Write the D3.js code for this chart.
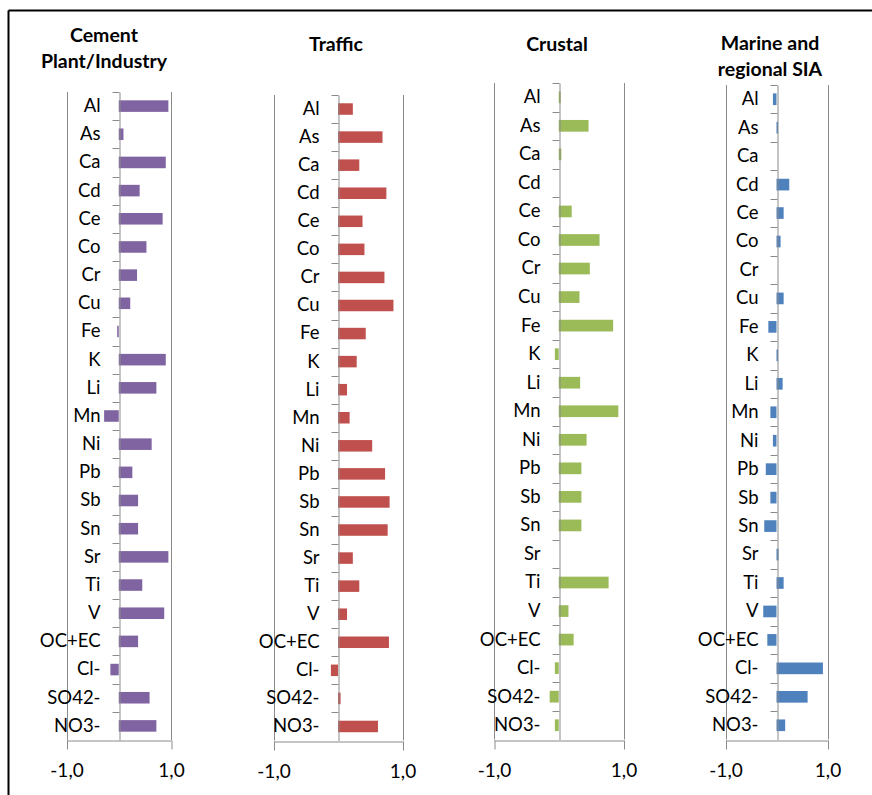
<!DOCTYPE html>
<html>
<head>
<meta charset="utf-8">
<script src="https://cdn.jsdelivr.net/npm/d3@7"></script>
<style>
  html, body { margin: 0; padding: 0; background: #fff; }
  svg { display: block; }
  text { font-family: Lato, "Open Sans", sans-serif; fill: #000; }
</style>
</head>
<body>
<svg id="chart" width="872" height="795"></svg>
<script>
// Source-profile correlations per species
const categories = ["Al","As","Ca","Cd","Ce","Co","Cr","Cu","Fe","K","Li","Mn","Ni","Pb","Sb","Sn","Sr","Ti","V","OC+EC","Cl-","SO42-","NO3-"];

const cementValues  = [0.95,0.09,0.90,0.40,0.84,0.53,0.35,0.22,-0.03,0.90,0.72,-0.28,0.63,0.26,0.37,0.37,0.95,0.45,0.87,0.37,-0.16,0.59,0.72];
const trafficValues = [0.23,0.69,0.33,0.75,0.38,0.41,0.72,0.86,0.43,0.29,0.14,0.18,0.53,0.73,0.80,0.77,0.23,0.33,0.14,0.79,-0.11,0.04,0.62];
const crustalValues = [0.03,0.46,0.04,0.00,0.20,0.63,0.48,0.32,0.84,-0.06,0.33,0.92,0.43,0.35,0.35,0.35,0.00,0.77,0.15,0.23,-0.06,-0.14,-0.06];
const marineValues  = [-0.07,0.03,0.00,0.25,0.14,0.08,0.00,0.14,-0.16,0.03,0.12,-0.12,-0.07,-0.21,-0.12,-0.24,0.04,0.14,-0.26,-0.18,0.91,0.61,0.17];

const tickValues = [-1, 1];
const tickLabels = ["-1,0", "1,0"];

const titles = [
  ["Cement", "Plant/Industry"],
  ["Traffic"],
  ["Crustal"],
  ["Marine and", "regional SIA"]
];

// Panel geometry (pixels)
const panels = [
  { values: cementValues,  color: "#8064A2", x0: 66.5,  x1: 171,   top: 92, bottom: 740,   titleX: 104, titleY: 42 },
  { values: trafficValues, color: "#C0504D", x0: 273.5, x1: 402.5, top: 95, bottom: 740.5, titleX: 336, titleY: 51 },
  { values: crustalValues, color: "#9BBB59", x0: 494,   x1: 623.5, top: 83, bottom: 739.5, titleX: 557, titleY: 51 },
  { values: marineValues,  color: "#4F81BD", x0: 725.5, x1: 827.5, top: 85, bottom: 739.5, titleX: 770, titleY: 50 }
];

const svg = d3.select("#chart");
const gridColor = "#8a8a8a";

// Outer frame (top and left edges)
svg.append("line").attr("x1", 8.5).attr("x2", 872).attr("y1", 10.5).attr("y2", 10.5)
  .attr("stroke", "#000").attr("stroke-width", 2);
svg.append("line").attr("x1", 8.5).attr("x2", 8.5).attr("y1", 10.5).attr("y2", 795)
  .attr("stroke", "#000").attr("stroke-width", 2);

panels.forEach((p, i) => {
  const g = svg.append("g");
  const x = d3.scaleLinear().domain([-1, 1]).range([p.x0, p.x1]);
  const y = d3.scaleBand().domain(categories).range([p.top, p.bottom]).paddingInner(0.59).paddingOuter(0.295);
  const yb = d3.scaleBand().domain(categories).range([p.top, p.bottom]);

  // vertical gridlines at -1 and 1
  g.selectAll(".grid").data(tickValues).join("line")
    .attr("x1", d => Math.round(x(d)) + 0.5).attr("x2", d => Math.round(x(d)) + 0.5)
    .attr("y1", p.top).attr("y2", p.bottom)
    .attr("stroke", gridColor).attr("stroke-width", 1);

  // value axis along the bottom
  const xAxis = d3.axisBottom(x).tickValues(tickValues)
    .tickFormat((d, k) => tickLabels[k]).tickSize(9).tickSizeOuter(0).tickPadding(14);
  const ax = g.append("g").attr("transform", `translate(0,${Math.round(p.bottom) + 0.5})`).call(xAxis);
  ax.select(".domain").attr("stroke", gridColor);
  ax.selectAll(".tick line").attr("stroke", gridColor).attr("transform", "translate(0.5,0)");
  ax.selectAll(".tick text").attr("font-size", "19px").attr("fill", "#000")
    .attr("font-family", "Lato, sans-serif");

  // bars
  g.selectAll(".bar").data(categories).join("rect")
    .attr("x", (c, k) => x(Math.min(0, p.values[k])))
    .attr("width", (c, k) => Math.abs(x(p.values[k]) - x(0)))
    .attr("y", c => y(c))
    .attr("height", y.bandwidth())
    .attr("fill", p.color);

  // category axis at zero
  const zx = Math.round(x(0)) + 0.5;
  const yAxis = d3.axisLeft(yb).tickSize(0).tickPadding(19).tickSizeOuter(0);
  const ay = g.append("g").attr("transform", `translate(${zx},0)`).call(yAxis);
  ay.select(".domain").attr("stroke", gridColor);
  ay.selectAll(".tick text").attr("font-size", "18.5px").attr("fill", "#000")
    .attr("font-family", "Lato, sans-serif");
  // tick marks between categories
  const bounds = categories.map(c => yb(c));
  ay.selectAll(".sep").data(bounds).join("line")
    .attr("x1", -7).attr("x2", 0)
    .attr("y1", d => Math.round(d) + 0.5).attr("y2", d => Math.round(d) + 0.5)
    .attr("stroke", gridColor);

  // title
  const t = svg.append("text").attr("text-anchor", "middle")
    .attr("font-weight", "bold").attr("font-size", "19.5px");
  titles[i].forEach((line, k) => {
    t.append("tspan").attr("x", p.titleX).attr("y", p.titleY + k * 26).text(line);
  });
});
</script>
</body>
</html>
